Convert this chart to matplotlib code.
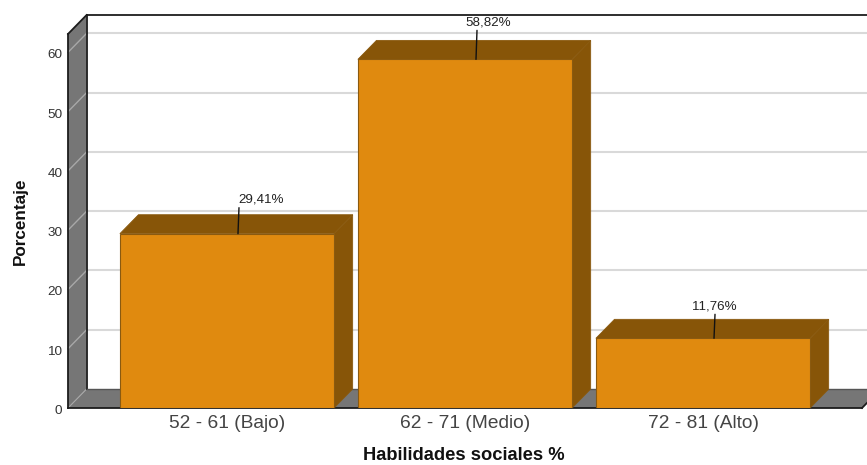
import matplotlib
matplotlib.use("Agg")
import matplotlib.pyplot as plt
from matplotlib.patches import Polygon
from matplotlib.transforms import ScaledTranslation

plt.rcParams["font.family"] = ["Liberation Sans", "DejaVu Sans"]
plt.rcParams["text.kerning_factor"] = 6

categories = ["52 - 61 (Bajo)", "62 - 71 (Medio)", "72 - 81 (Alto)"]
porcentaje = [29.41, 58.82, 11.76]
etiquetas = ["29,41%", "58,82%", "11,76%"]
yticks = [0, 10, 20, 30, 40, 50, 60]

W, H = 867, 465
ORANGE = "#E08A0F"
BROWN = "#875508"
EDGE = "#8A5A10"
GREY = "#767676"
FRAME = "#1c1c1c"
GRID = "#d9d9d9"

# depth of the fake 3d box, in data units
dx = 0.078
dy = 3.2
bar_w = 0.9
xmin, xmax = -0.668, 2.668
ymax = 63.1

fig = plt.figure(figsize=(W / 100, H / 100), dpi=100)
ax = fig.add_axes([68 / W, (H - 408) / H, 794 / W, 374 / H])
ax.set_xlim(xmin, xmax)
ax.set_ylim(0, ymax)
ax.patch.set_visible(False)
for s in ax.spines.values():
    s.set_visible(False)


def poly(pts, fc, ec="none", lw=0.0, z=1):
    ax.add_patch(Polygon(pts, closed=True, fc=fc, ec=ec, lw=lw, zorder=z, clip_on=False))


# left wall and floor
poly([(xmin, 0), (xmin + dx, dy), (xmin + dx, ymax + dy), (xmin, ymax)], GREY)
poly([(xmin, 0), (xmin + dx, dy), (xmax + dx, dy), (xmax, 0)], GREY)

# grid on the back wall, continuing across the left wall
for t in yticks[1:]:
    ax.plot([xmin + dx, xmax + dx], [t + dy, t + dy], color=GRID, lw=1.5, zorder=2, clip_on=False)
    ax.plot([xmin, xmin + dx], [t, t + dy], color="#a8a8a8", lw=1.0, zorder=2, clip_on=False)
ax.plot([xmin, xmin + dx], [0, dy], color="#a8a8a8", lw=0.8, zorder=2, clip_on=False)

# frame
frame = dict(color=FRAME, lw=1.3, zorder=3, clip_on=False, solid_capstyle="projecting")
ax.plot([xmin, xmin], [0, ymax], **frame)
ax.plot([xmin + dx, xmin + dx], [dy, ymax + dy], **frame)
ax.plot([xmin, xmin + dx], [ymax, ymax + dy], **frame)
ax.plot([xmin + dx, xmax + dx], [ymax + dy, ymax + dy], **frame)
ax.plot([xmin + dx, xmax + dx], [dy, dy], color="#555555", lw=1.0, zorder=3, clip_on=False)
ax.plot([xmin, xmax], [0, 0], **frame)
ax.plot([xmax, xmax + dx], [0, dy], **frame)

# bars
xs = list(range(len(categories)))
ax.bar(xs, porcentaje, width=bar_w, color=ORANGE, edgecolor=EDGE, linewidth=0.8, zorder=6)
for x, v in zip(xs, porcentaje):
    l, r = x - bar_w / 2, x + bar_w / 2
    poly([(r, 0), (r + dx, dy), (r + dx, v + dy), (r, v)], BROWN, EDGE, 0.6, 5)
    poly([(l, v), (l + dx, v + dy), (r + dx, v + dy), (r, v)], BROWN, EDGE, 0.6, 5)

# labels with a leader line, offsets in pixels
label_dx = [34, 23, 12]
label_dy = [34, 37, 32]
for x, v, txt, ox, oy in zip(xs, porcentaje, etiquetas, label_dx, label_dy):
    ax.annotate("", xy=(x + 11 / 238, v), xytext=(x + 12 / 238, v + (oy - 8) / 5.93),
                arrowprops=dict(arrowstyle="-", color="#111111", lw=1.0, shrinkA=0, shrinkB=0),
                zorder=7, annotation_clip=False)
    ax.annotate(txt, xy=(x, v), xytext=(ox * 0.72, oy * 0.72), textcoords="offset points",
                ha="center", va="center", fontsize=9.6, color="#222222", zorder=8,
                annotation_clip=False)

ax.set_xticks(xs)
ax.set_xticklabels(categories, fontsize=13.8, color="#444444")
ax.set_yticks(yticks)
ax.set_yticklabels([str(t) for t in yticks], fontsize=9.7, color="#333333")
ax.tick_params(axis="both", length=0)
ax.tick_params(axis="y", pad=4)
ax.tick_params(axis="x", pad=5)
# tick labels sit a little below their level in the original
shift = ScaledTranslation(0, -1.5 / 100, fig.dpi_scale_trans)
for lab in ax.get_yticklabels():
    lab.set_transform(lab.get_transform() + shift)

fig.text(464 / W, 1 - 455.5 / H, "Habilidades sociales %", ha="center", va="center",
         fontsize=13.2, fontweight="bold", color="#111111")
fig.text(20.5 / W, 1 - 221 / H, "Porcentaje", ha="center", va="center", rotation=90,
         fontsize=12.3, fontweight="bold", color="#111111")

fig.savefig("out.png", dpi=100)
